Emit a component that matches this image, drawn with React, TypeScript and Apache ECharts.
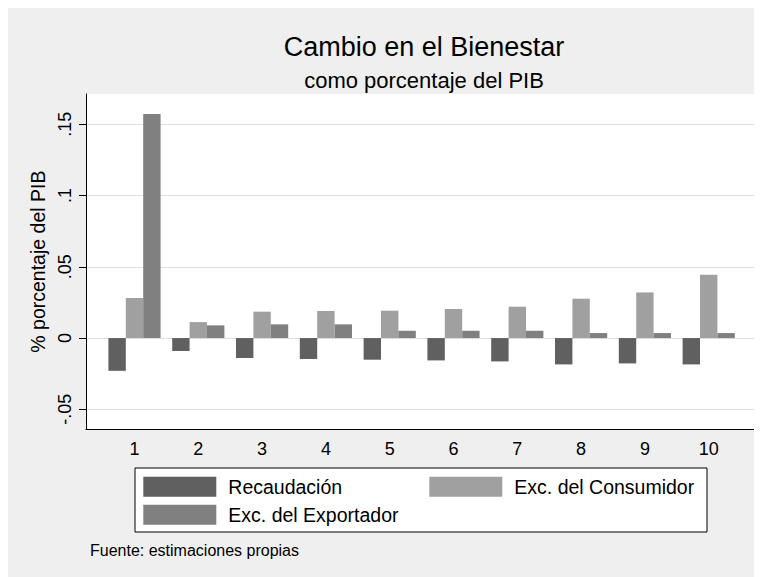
import { useEffect, useRef } from 'react';
import * as echarts from 'echarts';

const categories = ['1', '2', '3', '4', '5', '6', '7', '8', '9', '10'];
const recaudacion = [-0.023, -0.0091, -0.014, -0.0147, -0.0152, -0.0157, -0.0164, -0.0185, -0.0178, -0.0185];
const consumidor = [0.0281, 0.0112, 0.0185, 0.019, 0.0192, 0.0204, 0.022, 0.0276, 0.032, 0.0445];
const exportador = [0.1573, 0.0089, 0.0096, 0.0096, 0.0051, 0.0051, 0.0051, 0.0035, 0.0035, 0.0035];
const yTicks = [-0.05, 0, 0.05, 0.1, 0.15];
const Y_MIN = -0.06404;
const Y_MAX = 0.17126;

const seriesNames = ['Recaudación', 'Exc. del Consumidor', 'Exc. del Exportador'];
const seriesColors = ['#606060', '#a0a0a0', '#808080'];
const FONT = '"Liberation Sans", Arial, Helvetica, sans-serif';

function fmt(v: number): string {
  if (Math.abs(v) < 1e-9) return '0';
  return String(+v.toFixed(3)).replace('0.', '.');
}

export default function App() {
  const ref = useRef<HTMLDivElement>(null);
  useEffect(() => {
    document.documentElement.style.overflow = 'hidden';
    const chart = echarts.init(ref.current!, null, { renderer: 'svg' });
    const gridTop = 86;
    const gridBottom = 147.7;
    const legendBase = {
      orient: 'horizontal',
      padding: 0,
      itemWidth: 73,
      itemHeight: 20,
      icon: 'rect',
      selectedMode: false,
      textStyle: { fontSize: 19.5, color: '#000', fontFamily: FONT, padding: [0, 0, 0, 7] },
    };
    const option: any = {
      animation: false,
      backgroundColor: '#efefef',
      textStyle: { fontFamily: FONT },
      grid: [
        { left: 78, right: 5, top: gridTop, bottom: gridBottom, show: true, backgroundColor: '#ffffff', borderWidth: 0, containLabel: false, outerBoundsMode: 'none' },
        { left: 94.6, right: 21.4, top: gridTop, bottom: gridBottom, containLabel: false, outerBoundsMode: 'none' },
      ],
      xAxis: [
        {
          gridIndex: 0, type: 'value', min: 0, max: 1,
          axisLine: { show: true, onZero: false, lineStyle: { color: '#000', width: 1 } },
          axisTick: { show: false }, axisLabel: { show: false }, splitLine: { show: false },
        },
        {
          gridIndex: 1, type: 'category', data: categories,
          axisLine: { show: false }, axisTick: { show: false },
          axisLabel: { fontSize: 18, color: '#000', margin: 11, fontFamily: FONT },
          splitLine: { show: false },
        },
      ],
      yAxis: [
        {
          gridIndex: 0, type: 'value', min: Y_MIN, max: Y_MAX,
          axisLine: { show: true, lineStyle: { color: '#000', width: 1 } },
          axisTick: { show: true, length: 7, lineStyle: { color: '#000' }, customValues: yTicks },
          axisLabel: { customValues: yTicks, rotate: 90, fontSize: 18, color: '#000', margin: 12, fontFamily: FONT, formatter: (v: number) => fmt(v) },
          splitLine: { show: true, lineStyle: { color: '#dfdfdf', width: 1 } },
          name: '% porcentaje del PIB', nameLocation: 'middle', nameRotate: 90, nameGap: 24,
          nameTextStyle: { fontSize: 19.5, color: '#000', fontFamily: FONT },
        },
        { gridIndex: 1, type: 'value', min: Y_MIN, max: Y_MAX, show: false },
      ],
      legend: [
        { ...legendBase, data: [seriesNames[0]], left: 135.3, top: 468.7 },
        { ...legendBase, data: [seriesNames[1]], left: 421.3, top: 468.7 },
        { ...legendBase, data: [seriesNames[2]], left: 135.3, top: 496.7 },
      ],
      graphic: [
        {
          type: 'rect', z: 1, shape: { x: 127, y: 460, width: 572, height: 64 },
          style: { fill: '#ffffff', stroke: '#000', lineWidth: 1 },
        },
        {
          type: 'text', x: 416, y: 39,
          style: { text: 'Cambio en el Bienestar', fill: '#000', fontSize: 27, fontFamily: FONT, textAlign: 'center', textVerticalAlign: 'middle' },
        },
        {
          type: 'text', x: 416, y: 72.4,
          style: { text: 'como porcentaje del PIB', fill: '#000', fontSize: 22, fontFamily: FONT, textAlign: 'center', textVerticalAlign: 'middle' },
        },
        {
          type: 'text', x: 82, y: 542,
          style: { text: 'Fuente: estimaciones propias', fill: '#000', fontSize: 16, fontFamily: FONT, textAlign: 'left', textVerticalAlign: 'middle' },
        },
      ],
      series: [recaudacion, consumidor, exportador].map((d, i) => ({
        name: seriesNames[i],
        type: 'bar',
        xAxisIndex: 1,
        yAxisIndex: 1,
        data: d,
        barWidth: 17.4,
        barGap: '0%',
        itemStyle: { color: seriesColors[i] },
      })),
    };
    chart.setOption(option);
    return () => chart.dispose();
  }, []);
  return <div ref={ref} style={{ width: 754, height: 569 }} />;
}
